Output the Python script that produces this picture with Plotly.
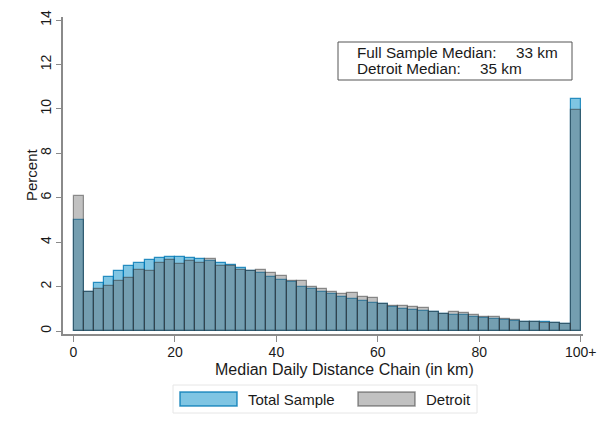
import plotly.graph_objects as go

# ---- data (percent of observations per 2-km bin; last bin = 100+) ----
bin_centers = [1, 3, 5, 7, 9, 11, 13, 15, 17, 19, 21, 23, 25, 27, 29, 31, 33, 35, 37, 39,
               41, 43, 45, 47, 49, 51, 53, 55, 57, 59, 61, 63, 65, 67, 69, 71, 73, 75, 77, 79,
               81, 83, 85, 87, 89, 91, 93, 95, 97, 99]
total_sample = [5.0, 1.75, 2.15, 2.45, 2.71, 2.93, 3.08, 3.2, 3.3, 3.33,
                3.33, 3.3, 3.23, 3.17, 3.08, 2.97, 2.85, 2.72, 2.6, 2.42,
                2.3, 2.22, 2.0, 1.88, 1.75, 1.66, 1.55, 1.43, 1.35, 1.28,
                1.2, 1.1, 1.0, 0.95, 0.89, 0.87, 0.78, 0.7, 0.7, 0.65,
                0.57, 0.56, 0.48, 0.45, 0.42, 0.42, 0.39, 0.38, 0.33, 10.45]
detroit = [6.1, 1.75, 1.9, 2.03, 2.26, 2.39, 2.74, 2.71, 3.05, 3.2,
           3.0, 3.15, 3.05, 3.23, 2.92, 2.92, 2.74, 2.72, 2.76, 2.63,
           2.48, 2.25, 2.27, 2.0, 1.9, 1.75, 1.66, 1.70, 1.52, 1.48,
           1.2, 1.12, 1.13, 1.08, 1.05, 0.87, 0.75, 0.87, 0.8, 0.74,
           0.65, 0.65, 0.53, 0.5, 0.42, 0.41, 0.38, 0.36, 0.32, 9.93]
x_tick_vals = [0, 20, 40, 60, 80, 100]
x_tick_text = ["0", "20", "40", "60", "80", "100+"]
y_tick_vals = [0, 2, 4, 6, 8, 10, 12, 14]
median_labels = ["Full Sample Median:", "Detroit Median:"]
median_values = ["33 km", "35 km"]
legend_names = ["Total Sample", "Detroit"]

# ---- layout geometry (reference-picture pixels) ----
W, H = 605, 431
OFF = 8                      # default page body margin shifts the figure by 8 px
L, R, T, B = 63, 583, 17, 334
X0_PX, X_PER = 73.5, 5.072   # pixel of x=0, pixels per km
Y0_PX, Y_PER = 331, 22.21    # pixel of y=0, pixels per percent

def px(x):
    return (x - L) / (R - L)
def py(y):
    return (B - y) / (B - T)

FONT = "Liberation Sans, Arial, sans-serif"
TXT = "#1a1a1a"
AX = "#8a8a8a"
FS = 15

tot_fill = "rgba(0,140,200,0.5)"
tot_line = "rgba(0,120,180,0.8)"
det_fill = "rgba(100,100,100,0.4)"
det_line = "rgba(50,50,50,0.5)"

fig = go.Figure()
fig.add_trace(go.Bar(x=bin_centers, y=total_sample, width=2, name=legend_names[0],
                     marker=dict(color=tot_fill, line=dict(color=tot_line, width=1.2))))
fig.add_trace(go.Bar(x=bin_centers, y=detroit, width=2, name=legend_names[1],
                     marker=dict(color=det_fill, line=dict(color=det_line, width=1.2))))

shapes = []
annotations = []

def label(x, y, text, anchor="left", size=FS, angle=0):
    annotations.append(dict(xref="paper", yref="paper", x=px(x), y=py(y), text=text,
                            showarrow=False, xanchor=anchor, yanchor="middle",
                            textangle=angle, borderpad=0,
                            font=dict(family=FONT, size=size, color=TXT)))

# median box
shapes.append(dict(type="rect", xref="paper", yref="paper",
                   x0=px(338), x1=px(572), y0=py(80), y1=py(42),
                   line=dict(color="#555555", width=1), fillcolor="white"))
label(356, 53, median_labels[0], size=15.3)
label(515, 53, median_values[0], size=15.3)
label(356, 68, median_labels[1], size=15.3)
label(479, 68, median_values[1], size=15.3)

# axis titles
label(344, 369, "Median Daily Distance Chain (in km)", anchor="center", size=16)
label(31, 175, "Percent", anchor="center", angle=-90)

# custom legend
shapes.append(dict(type="rect", xref="paper", yref="paper",
                   x0=px(173), x1=px(477), y0=py(413), y1=py(385),
                   line=dict(color="#e6e6e6", width=1), fillcolor="white"))
shapes.append(dict(type="rect", xref="paper", yref="paper",
                   x0=px(180), x1=px(237), y0=py(406), y1=py(392),
                   line=dict(color=tot_line, width=1.5), fillcolor=tot_fill))
shapes.append(dict(type="rect", xref="paper", yref="paper",
                   x0=px(358), x1=px(415), y0=py(406), y1=py(392),
                   line=dict(color=det_line, width=1.5), fillcolor=det_fill))
label(247, 399, legend_names[0])
label(425, 399, legend_names[1])

fig.update_layout(
    width=W, height=H,
    margin=dict(l=L - OFF, r=W - (R - OFF), t=T - OFF, b=H - (B - OFF), pad=0, autoexpand=False),
    paper_bgcolor="white", plot_bgcolor="white",
    barmode="overlay", bargap=0, showlegend=False,
    shapes=shapes, annotations=annotations,
    font=dict(family=FONT, size=FS, color=TXT),
    xaxis=dict(range=[(L - X0_PX) / X_PER, (R - X0_PX) / X_PER], tickmode="array",
               tickvals=x_tick_vals, ticktext=x_tick_text, automargin=False,
               showgrid=False, zeroline=False, showline=True, linecolor=AX, linewidth=1.5,
               ticks="outside", ticklen=6, tickcolor=AX, tickwidth=1.2, ticklabelstandoff=-2,
               tickfont=dict(family=FONT, size=14, color=TXT)),
    yaxis=dict(range=[(Y0_PX - B) / Y_PER, (Y0_PX - T) / Y_PER], tickmode="array",
               tickvals=y_tick_vals, tickangle=-90, automargin=False,
               showgrid=False, zeroline=False, showline=True, linecolor=AX, linewidth=1.5,
               ticks="outside", ticklen=5, tickcolor=AX, tickwidth=1.2,
               tickfont=dict(family=FONT, size=14, color=TXT)),
)

fig.write_html("out.html")
